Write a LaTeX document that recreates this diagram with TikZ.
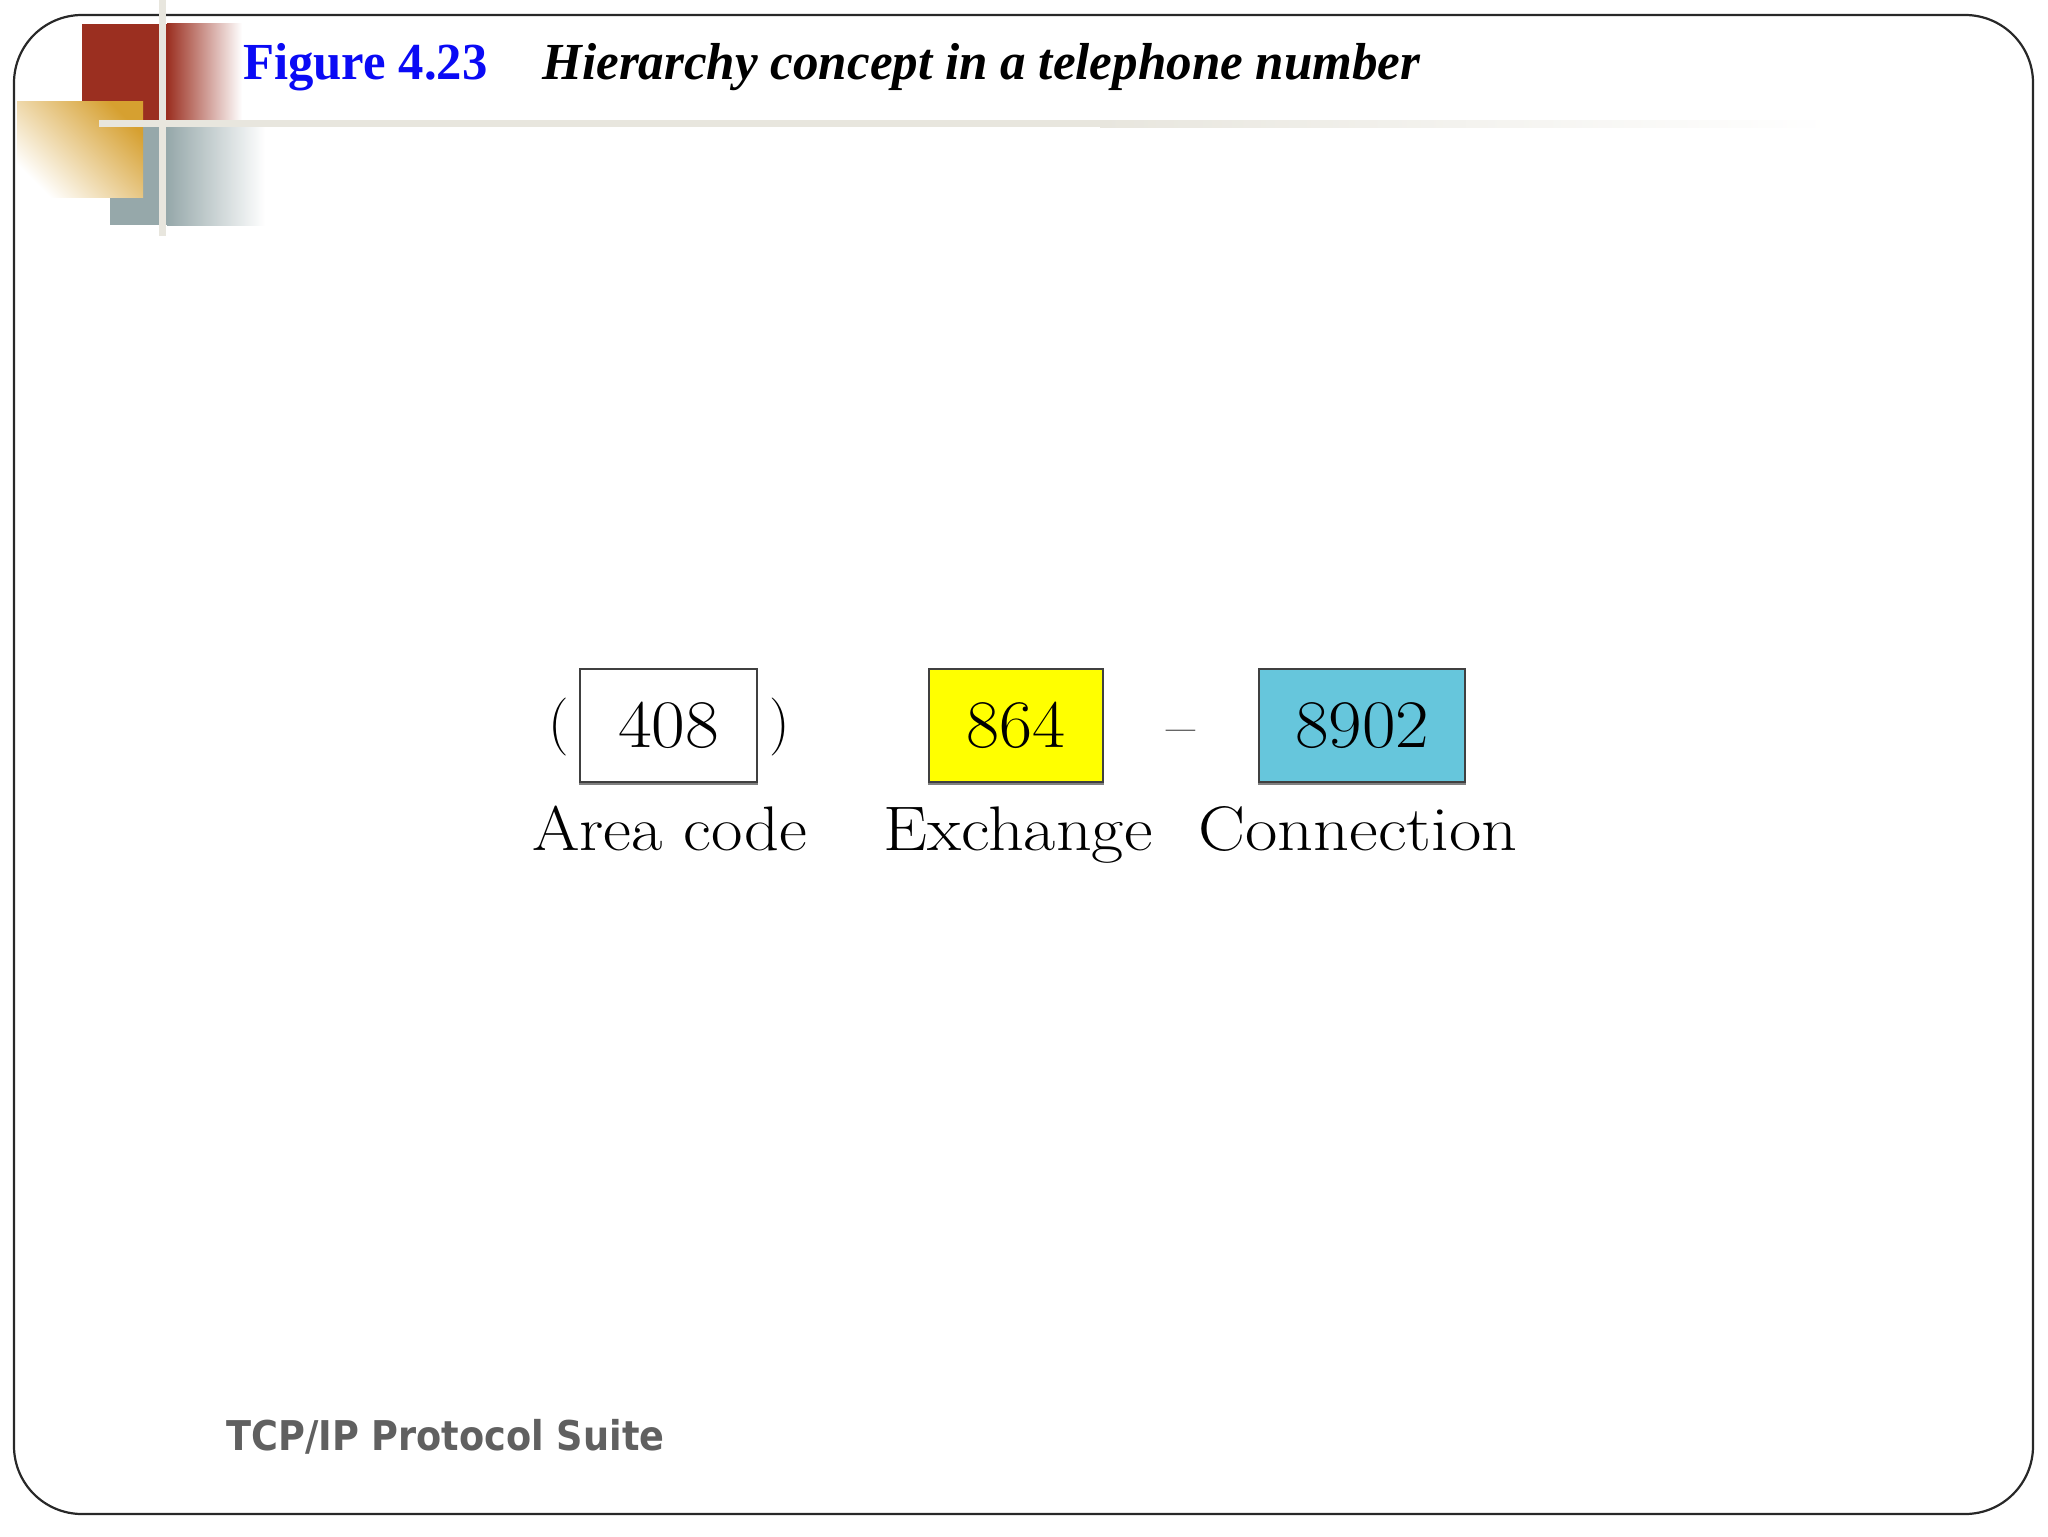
\documentclass[tikz,border=0pt]{standalone}
\usepackage{fontspec}
\usepackage{graphicx}
\newfontfamily\titlefont{Liberation Serif}
\newfontfamily\footfont{DejaVu Sans}
\definecolor{deepred}{RGB}{155,47,32}
\definecolor{slategrey}{RGB}{150,168,170}
\definecolor{goldc}{RGB}{214,160,48}
\definecolor{beigeline}{RGB}{232,230,222}
\definecolor{boxblue}{RGB}{102,198,220}
\definecolor{boxyellow}{RGB}{255,255,0}
\definecolor{footgray}{RGB}{96,96,96}
\definecolor{framec}{RGB}{40,40,40}
\definecolor{titleblue}{RGB}{10,10,245}
\tikzset{
  numbox/.style={draw=black!75, line width=1.1pt, inner sep=0, minimum height=56.5pt,
    font=\fontsize{34}{40}\selectfont},
  shadowline/.style={draw=gray, line width=1.2pt},
  labeltext/.style={anchor=base west, inner sep=0, font=\fontsize{31.5}{36}\selectfont},
  titletext/.style={anchor=base west, inner sep=0, font=\titlefont\bfseries\fontsize{26}{30}\selectfont},
}
\begin{document}
\begin{tikzpicture}[x=0.5pt,y=-0.5pt]
\useasboundingbox (0,0) rectangle (2048,1536);
\fill[white] (0,0) rectangle (2048,1536);
% frame
\draw[framec, line width=1.1pt, rounded corners=34pt] (14,15) rectangle (2033,1514);
% corner decoration
\fill[deepred] (82,24) rectangle (167,120);
\shade[left color=deepred, right color=white] (167,24) rectangle (242,120);
\fill[slategrey] (110,127) rectangle (167,225);
\shade[left color=slategrey, right color=white] (167,127) rectangle (265,225);
\shade[top color=goldc, bottom color=white, shading angle=-45] (17,102) rectangle (143,197);
\fill[beigeline] (159,0) rectangle (166,236);
\fill[beigeline] (99,120) rectangle (1100,127);
\shade[left color=beigeline, right color=white] (1100,120) rectangle (1830,127);
% title
\node[titletext, text=titleblue] (fig) at (243,79) {\resizebox{122pt}{\height}{Figure 4.23}};
\node[titletext, font=\titlefont\bfseries\itshape\fontsize{26}{30}\selectfont] (cap) at (542,79)
  {\resizebox{439pt}{\height}{Hierarchy concept in a telephone number}};
% phone number
\node[numbox, fill=white, minimum width=88.5pt] (area) at (668.5,725.5) {\resizebox{50.5pt}{\height}{408}};
\node[numbox, fill=boxyellow, minimum width=87pt] (exch) at (1016,725.5) {\resizebox{49.5pt}{\height}{864}};
\node[numbox, fill=boxblue, minimum width=103pt] (conn) at (1362,725.5) {\resizebox{67pt}{\height}{8902}};
\foreach \b in {area,exch,conn}
  \draw[shadowline] ([yshift=-0.5pt]\b.south west) -- ([yshift=-0.5pt]\b.south east);
\node[inner sep=0, font=\fontsize{29}{34}\selectfont] (lp) at (559,727) {(};
\node[inner sep=0, font=\fontsize{29}{34}\selectfont] (rp) at (780,727) {)};
\node[anchor=base, inner sep=0, font=\fontsize{31.5}{36}\selectfont, text=black!80] (dash) at (1181,747) {\textendash};
% labels
\node[labeltext] (arealbl) at (532,850) {\resizebox{137.5pt}{\height}{Area code}};
\node[labeltext] (exchlbl) at (883,850) {\resizebox{134.5pt}{\height}{Exchange}};
\node[labeltext] (connlbl) at (1198,850) {\resizebox{159.5pt}{\height}{Connection}};
% footer
\node[anchor=base west, inner sep=0, text=footgray, font=\footfont\bfseries\fontsize{20.5}{24}\selectfont] (foot) at (226,1450)
  {\resizebox{219pt}{\height}{TCP/IP Protocol Suite}};
\end{tikzpicture}
\end{document}
